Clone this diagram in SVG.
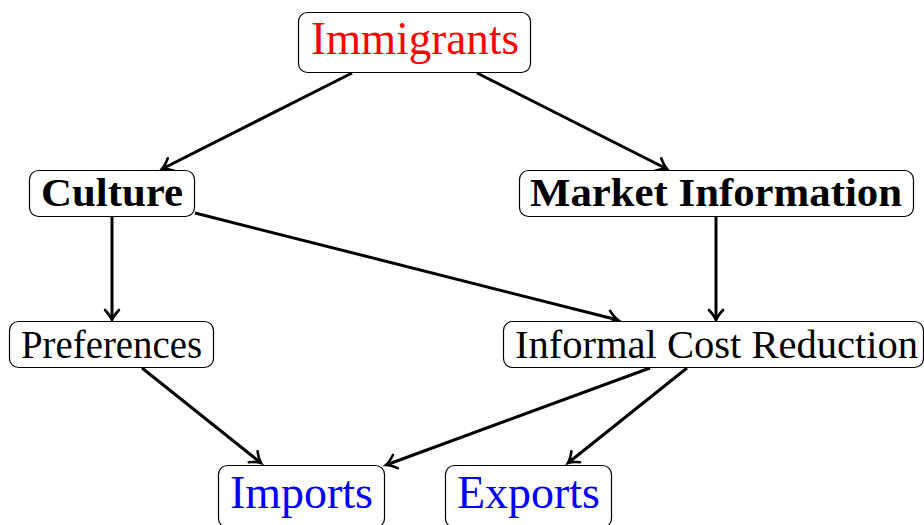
<svg xmlns="http://www.w3.org/2000/svg" width="924" height="525" viewBox="0 0 924 525">
<style>
.box{fill:#fff;stroke:#000;stroke-width:1.2}
.t{font-family:"Liberation Serif","Times New Roman",serif;text-anchor:middle}
.big{font-size:46px}
.mid{font-size:40px}
.bold{font-weight:bold;font-size:41px}
.edge{stroke:#000;stroke-width:3;fill:none;marker-end:url(#arr)}
</style>
<defs>
<marker id="arr" markerUnits="userSpaceOnUse" markerWidth="20" markerHeight="20" viewBox="-12 -10 14 20" refX="0" refY="0" orient="auto" overflow="visible">
<path d="M-10,-7 Q-4,-1.5 0,0 Q-4,1.5 -10,7" fill="none" stroke="#000" stroke-width="2.6" stroke-linecap="round"/>
</marker>
</defs>
<g id="connectors">
<line class="edge" x1="352" y1="73" x2="162" y2="169"/>
<line class="edge" x1="477" y1="73" x2="667" y2="169"/>
<line class="edge" x1="112" y1="217" x2="112" y2="320"/>
<line class="edge" x1="195" y1="213" x2="618" y2="320"/>
<line class="edge" x1="716" y1="217" x2="716" y2="320"/>
<line class="edge" x1="142" y1="368" x2="261" y2="463"/>
<line class="edge" x1="650" y1="368" x2="386" y2="465"/>
<line class="edge" x1="687" y1="368" x2="568" y2="463"/>
</g>
<g id="immigrants">
<rect class="box" x="298.5" y="12.5" width="232" height="60" rx="9"/>
<text class="t big" x="415" y="54" fill="#ff0000" textLength="208" lengthAdjust="spacingAndGlyphs">Immigrants</text>
</g>
<g id="culture">
<rect class="box" x="29.5" y="170.5" width="165" height="46" rx="9"/>
<text class="t bold" x="112" y="206" textLength="142" lengthAdjust="spacingAndGlyphs">Culture</text>
</g>
<g id="market">
<rect class="box" x="519.5" y="170.5" width="394" height="46" rx="9"/>
<text class="t bold" x="716" y="206" textLength="372" lengthAdjust="spacingAndGlyphs">Market Information</text>
</g>
<g id="preferences">
<rect class="box" x="9.5" y="321.5" width="204" height="46" rx="9"/>
<text class="t mid" x="111.5" y="358" textLength="181" lengthAdjust="spacingAndGlyphs">Preferences</text>
</g>
<g id="icr">
<rect class="box" x="503.5" y="321.5" width="420" height="46" rx="9"/>
<text class="t mid" x="716.5" y="358" textLength="403" lengthAdjust="spacingAndGlyphs">Informal Cost Reduction</text>
</g>
<g id="imports">
<rect class="box" x="218.5" y="465.5" width="166" height="62" rx="9"/>
<text class="t big" x="301.5" y="508" fill="#0000ff" textLength="143" lengthAdjust="spacingAndGlyphs">Imports</text>
</g>
<g id="exports">
<rect class="box" x="445.5" y="465.5" width="166" height="62" rx="9"/>
<text class="t big" x="528.5" y="508" fill="#0000ff" textLength="143" lengthAdjust="spacingAndGlyphs">Exports</text>
</g>
</svg>
